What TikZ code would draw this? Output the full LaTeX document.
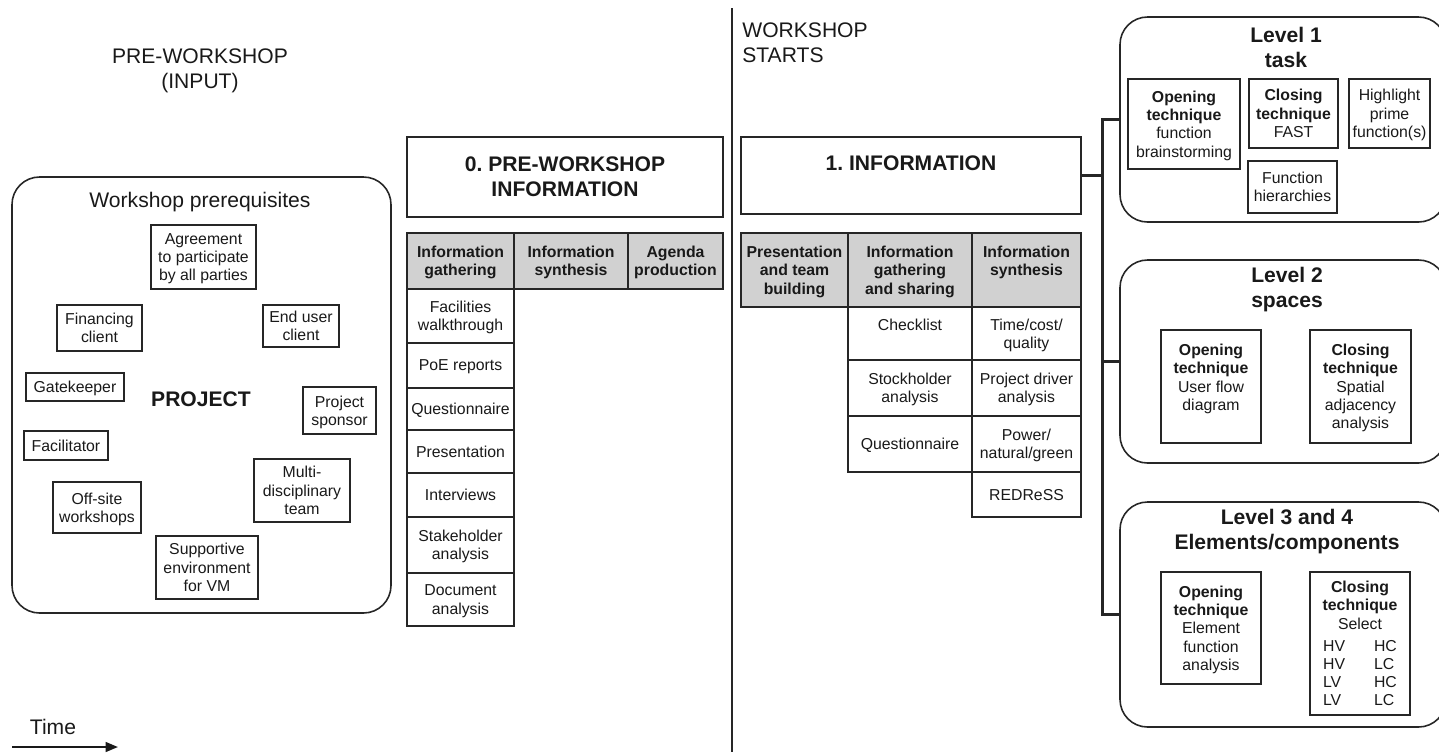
\documentclass[tikz,border=0pt]{standalone}
\usepackage{fontspec}
\setmainfont{Liberation Sans}
\usepackage{tikz}
\usetikzlibrary{arrows.meta}
\frenchspacing

\newcommand{\diagbig}{\fontsize{12}{14.2}\selectfont}
\newcommand{\diagsmall}{\fontsize{9}{10.4}\selectfont}
\newcommand{\vcpair}[2]{\makebox[29pt][l]{#1}\makebox[13pt][l]{#2}}

\tikzset{
  txt/.style={text=black!90, align=center, inner sep=0pt},
  bigtxt/.style={txt, font=\diagbig},
  smalltxt/.style={txt, font=\diagsmall, text depth=0pt},
  boxsize/.style 2 args={minimum width=#1*0.02cm, minimum height=#2*0.02cm},
  plainbox/.style={smalltxt, draw=black!85, line width=0.8pt},
  headcell/.style={plainbox, fill=black!18, font=\diagsmall\bfseries},
  roundbox/.style={draw=black!85, line width=0.9pt, rounded corners=0.55cm, inner sep=0pt},
  bracket/.style={draw=black!85, line width=1.6pt},
  divider/.style={draw=black!85, line width=1.3pt}
}

\begin{document}
\begin{tikzpicture}[x=0.02cm, y=-0.02cm]

\useasboundingbox (0,0) rectangle (1439,752);

\node[bigtxt] (pretitle) at (200,71) {PRE-WORKSHOP\\(INPUT)};
\node[bigtxt, align=left, anchor=west] (starttitle) at (742,43) {WORKSHOP\\STARTS};
\draw[divider] (732,8) -- (732,752);

% prerequisites
\node[roundbox, boxsize={379}{436}] (prereq) at (201.5,395) {};
\node[bigtxt] (prereqtitle) at (200,202) {Workshop prerequisites};
\node[bigtxt, font=\diagbig\bfseries] (project) at (201,399) {PROJECT};
\node[plainbox, boxsize={105}{64}] (agree) at (203.5,257) {Agreement\\to participate\\by all parties};
\node[plainbox, boxsize={85}{46}] (finance) at (99.5,328) {Financing\\client};
\node[plainbox, boxsize={76}{42}] (enduser) at (301,326) {End user\\client};
\node[plainbox, boxsize={98}{28}] (gate) at (75,387) {Gatekeeper};
\node[plainbox, boxsize={73}{47}] (sponsor) at (339.5,410.5) {Project\\sponsor};
\node[plainbox, boxsize={84}{29}] (facil) at (66,445.5) {Facilitator};
\node[plainbox, boxsize={88}{51}] (offsite) at (97,507.5) {Off-site\\workshops};
\node[plainbox, boxsize={96}{63}] (multi) at (302,490.5) {Multi-\\disciplinary\\team};
\node[plainbox, boxsize={102}{63}] (support) at (207,567.5) {Supportive\\environment\\for VM};

% 0. pre-workshop information
\node[plainbox, boxsize={316}{80}, font=\diagbig\bfseries] (preinfo) at (565,177) {0. PRE-WORKSHOP\\INFORMATION};
\node[headcell, boxsize={107}{56}] (ph1) at (460.5,261) {Information\\gathering};
\node[headcell, boxsize={114}{56}] (ph2) at (571,261) {Information\\synthesis};
\node[headcell, boxsize={95}{56}] (ph3) at (675.5,261) {Agenda\\production};
\node[plainbox, boxsize={107}{54}] (pc1) at (460.5,316) {Facilities\\walkthrough};
\node[plainbox, boxsize={107}{45}] (pc2) at (460.5,365.5) {PoE reports};
\node[plainbox, boxsize={107}{42}] (pc3) at (460.5,409) {Questionnaire};
\node[plainbox, boxsize={107}{43}] (pc4) at (460.5,451.5) {Presentation};
\node[plainbox, boxsize={107}{44}] (pc5) at (460.5,495) {Interviews};
\node[plainbox, boxsize={107}{56}] (pc6) at (460.5,545) {Stakeholder\\analysis};
\node[plainbox, boxsize={107}{53}] (pc7) at (460.5,599.5) {Document\\analysis};

% 1. information
\node[plainbox, boxsize={340}{77}, font=\diagbig\bfseries] (info) at (911,175.5) {1. INFORMATION\\\mbox{}};
\node[headcell, boxsize={107}{74}] (ih1) at (794.5,270) {Presentation\\and team\\building};
\node[headcell, boxsize={124}{74}] (ih2) at (910,270) {Information\\gathering\\and sharing};
\node[headcell, boxsize={109}{74}] (ih3) at (1026.5,270) {Information\\synthesis\\\mbox{}};
\node[plainbox, boxsize={124}{53}] (ig1) at (910,333.5) {Checklist\\\mbox{}};
\node[plainbox, boxsize={124}{56}] (ig2) at (910,388) {Stockholder\\analysis};
\node[plainbox, boxsize={124}{56}] (ig3) at (910,444) {Questionnaire};
\node[plainbox, boxsize={109}{53}] (is1) at (1026.5,333.5) {Time/cost/\\quality};
\node[plainbox, boxsize={109}{56}] (is2) at (1026.5,388) {Project driver\\analysis};
\node[plainbox, boxsize={109}{56}] (is3) at (1026.5,444) {Power/\\natural/green};
\node[plainbox, boxsize={109}{45}] (is4) at (1026.5,494.5) {REDReSS};

% levels
\node[roundbox, boxsize={326}{205}] (lv1) at (1283,119.5) {};
\node[bigtxt, font=\diagbig\bfseries] (lv1title) at (1286,47) {Level 1\\task};
\node[plainbox, boxsize={112}{90}] (lv1open) at (1184,124) {\textbf{Opening}\\\textbf{technique}\\function\\brainstorming};
\node[plainbox, boxsize={89}{69}] (lv1close) at (1293.5,113.5) {\textbf{Closing}\\\textbf{technique}\\FAST};
\node[plainbox, boxsize={81}{69}] (lv1prime) at (1389.5,113.5) {Highlight\\prime\\function(s)};
\node[plainbox, boxsize={89}{52}] (lv1hier) at (1292.5,187) {Function\\hierarchies};

\node[roundbox, boxsize={326}{203}] (lv2) at (1283,361.5) {};
\node[bigtxt, font=\diagbig\bfseries] (lv2title) at (1287,290) {Level 2\\spaces};
\node[plainbox, boxsize={100}{113}] (lv2open) at (1211,386.5) {\textbf{Opening}\\\textbf{technique}\\User flow\\diagram\\\mbox{}};
\node[plainbox, boxsize={101}{113}] (lv2close) at (1360.5,386.5) {\textbf{Closing}\\\textbf{technique}\\Spatial\\adjacency\\analysis};

\node[roundbox, boxsize={326}{225}] (lv3) at (1283,614.5) {};
\node[bigtxt, font=\diagbig\bfseries] (lv3title) at (1287,532) {Level 3 and 4\\Elements/components};
\node[plainbox, boxsize={100}{112}] (lv3open) at (1211,628) {\textbf{Opening}\\\textbf{technique}\\Element\\function\\analysis};
\node[plainbox, boxsize={100}{143}] (lv3close) at (1360,643.5) {\textbf{Closing}\\\textbf{technique}\\Select\\[2pt]
  \vcpair{HV}{HC}\\\vcpair{HV}{LC}\\\vcpair{LV}{HC}\\\vcpair{LV}{LC}};

\path (info.east) ++(21,0) coordinate (spine);
\draw[bracket] (info.east) -- (spine);
\draw[bracket] (lv1.west) -| (spine) |- (lv3.west);
\draw[bracket] (lv2.west) -- (lv2.west -| spine);

% time
\node[bigtxt] (time) at (53,727) {Time};
\coordinate (t0) at (12,747);
\coordinate (t1) at (118,747);
\draw[line width=1.2pt, draw=black!90, -{Triangle[length=7pt, width=5.5pt]}] (t0) -- (t1);

\end{tikzpicture}
\end{document}
